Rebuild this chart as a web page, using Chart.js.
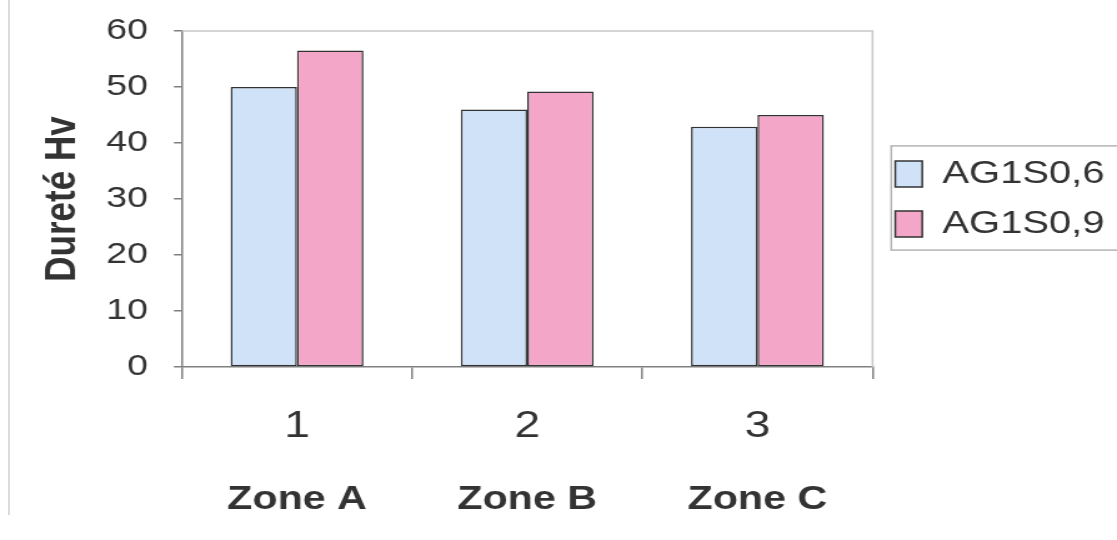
<!DOCTYPE html>
<html>
<head>
  <meta charset="UTF-8">
  <title>Dureté Hv par zone</title>
  <script src="https://cdn.jsdelivr.net/npm/chart.js"></script>
  <style>
    body { margin: 0; background: #fff; }
    #wrap { position: relative; width: 1117px; height: 540px; }
    #edge { position: absolute; left: 8px; top: 0; height: 515px; border-left: 2px solid #dcdcdc; }
    #c { position: absolute; left: 0; top: 0; }
  </style>
</head>
<body>
<div id="wrap">
  <div id="edge"></div>
  <!-- le graphique est dessiné plus étroit puis étiré, comme dans le document d'origine -->
  <canvas id="c" width="894" height="540" style="width:1117px;height:540px"></canvas>
</div>

<script>
  var zones = ['1', '2', '3'];
  var zoneNames = ['Zone A', 'Zone B', 'Zone C'];
  var serie06 = [50, 46, 42.9];
  var serie09 = [56.5, 49.2, 45];
  var yTicks = [0, 10, 20, 30, 40, 50, 60];

  var police = 'Liberation Sans, Arial, sans-serif';
  var gris = '#808080';
  var texte = '#333';

  // cadre clair du haut et de droite + cadre de la légende
  var cadres = {
    id: 'cadres',
    beforeDatasetsDraw: function(chart) {
      var a = chart.chartArea, ctx = chart.ctx;
      ctx.save();
      ctx.strokeStyle = '#c8c8c8';
      ctx.lineWidth = 1.5;
      ctx.beginPath();
      ctx.moveTo(a.left, a.top);
      ctx.lineTo(a.right, a.top);
      ctx.lineTo(a.right, a.bottom);
      ctx.stroke();
      ctx.restore();
    },
    afterDraw: function(chart) {
      var lg = chart.legend, hb = lg.legendHitBoxes;
      if (!hb || !hb.length) return;
      var ctx = chart.ctx;
      var top = hb[0].top - 12;
      var bottom = hb[hb.length - 1].top + hb[hb.length - 1].height + 10;
      ctx.save();
      ctx.strokeStyle = '#b4b4b4';
      ctx.lineWidth = 1.5;
      ctx.strokeRect(lg.left + 15, top, chart.width, bottom - top);
      ctx.restore();
    }
  };

  new Chart(document.getElementById('c').getContext('2d'), {
    type: 'bar',
    data: {
      labels: zones,
      datasets: [{
        label: 'AG1S0,6',
        data: serie06,
        backgroundColor: '#cfe2f8',
        borderColor: '#333',
        borderWidth: 1.5,
        borderSkipped: false
      }, {
        label: 'AG1S0,9',
        data: serie09,
        backgroundColor: '#f4a6c8',
        borderColor: '#333',
        borderWidth: 1.5,
        borderSkipped: false
      }]
    },
    options: {
      responsive: false,
      animation: false,
      categoryPercentage: 0.577,
      barPercentage: 1,
      layout: { padding: { top: 31, left: 0, right: 0, bottom: 0 } },
      plugins: {
        tooltip: { enabled: false },
        legend: {
          position: 'right',
          fullSize: false,
          labels: {
            boxWidth: 21.6,
            boxHeight: 26,
            padding: 18.2,
            color: texte,
            font: { family: police, size: 32, lineHeight: 1.12 }
          }
        }
      },
      scales: {
        x: {
          offset: true,
          grid: { offset: true, drawOnChartArea: false, color: gris, tickLength: 12, lineWidth: 1.5 },
          border: { color: gris, width: 1.5 },
          ticks: { color: texte, padding: 26, font: { family: police, size: 37 } },
          afterFit: function(s) { s.height = 83; }
        },
        x2: {
          type: 'category',
          position: 'bottom',
          labels: zoneNames,
          offset: true,
          grid: { display: false, drawTicks: false },
          border: { display: false },
          ticks: { color: texte, padding: 30, font: { family: police, size: 33, weight: 'bold' } },
          afterFit: function(s) { s.height = 90; }
        },
        y: {
          min: 0,
          max: 60,
          afterBuildTicks: function(s) { s.ticks = yTicks.map(function(v) { return { value: v }; }); },
          grid: { drawOnChartArea: false, color: gris, tickLength: 6.4, lineWidth: 1.5 },
          border: { color: gris, width: 1.5 },
          ticks: { color: texte, padding: 20.8, font: { family: police, size: 30, lineHeight: 0.3 } },
          title: {
            display: true,
            text: 'Dureté Hv',
            color: texte,
            padding: { top: 29, bottom: 0 },
            font: { family: police, size: 35, weight: 'bold' }
          },
          afterFit: function(s) { s.width = 145.6; }
        }
      }
    },
    plugins: [cadres]
  });
</script>
</body>
</html>
